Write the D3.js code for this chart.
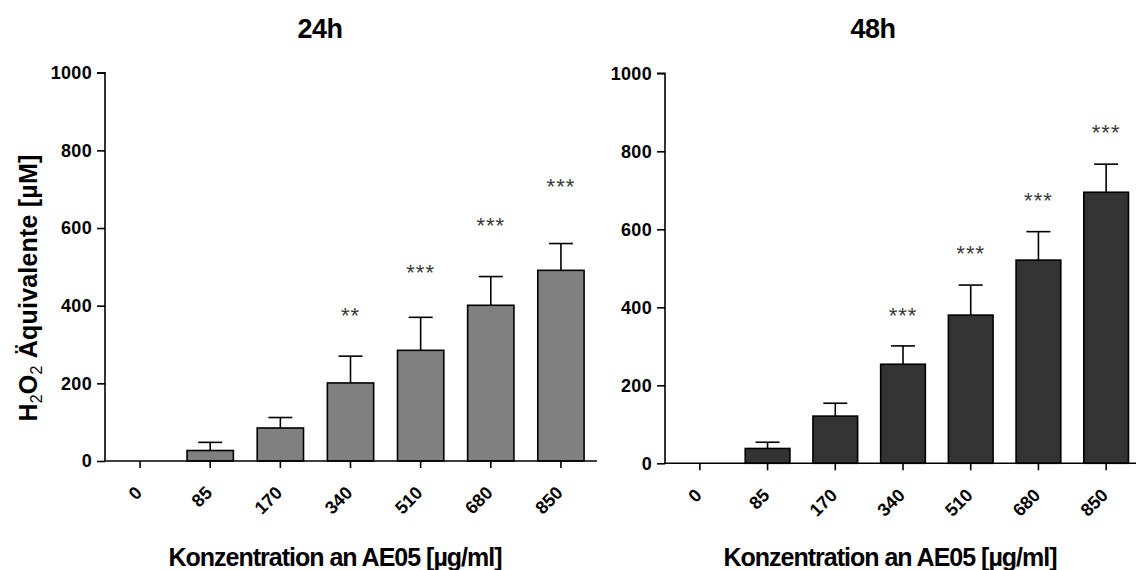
<!DOCTYPE html>
<html><head><meta charset="utf-8">
<script src="https://cdn.jsdelivr.net/npm/d3@7"></script>
<style>body{margin:0;background:#fff}svg{display:block}text{font-family:"Liberation Sans",Arial,sans-serif}</style>
</head><body><svg id="c" width="1139" height="570"></svg>
<script>
const categories = ["0","85","170","340","510","680","850"];
const yTicks = [0,200,400,600,800,1000];
const mean24 = [0,27,85,201,285,401,491];
const err24  = [0,21,27,69,85,74,69];
const sig24  = ["","","","**","***","***","***"];
const sigLevel24 = [0,0,0,386,497,618,719];
const mean48 = [0,38,121,254,380,521,695];
const err48  = [0,16,33,47,77,73,72];
const sig48  = ["","","","***","***","***","***"];
const sigLevel48 = [0,0,0,391,549,685,859];

const svg = d3.select("#c");
const font = '"Liberation Sans",Arial,sans-serif';

function panel(o){
  const g = svg.append("g");
  const x = d3.scaleBand().domain(categories).range([o.x0,o.x1]).paddingInner(0.34).paddingOuter(0.17);
  const y = d3.scaleLinear().domain([0,1000]).range([o.yb,o.yt]);
  const cx = d => x(d)+x.bandwidth()/2;
  g.selectAll("rect.bar").data(categories).join("rect")
    .attr("x",d=>x(d)).attr("width",x.bandwidth())
    .attr("y",(d,i)=>y(o.mean[i])).attr("height",(d,i)=>y(0)-y(o.mean[i]))
    .attr("fill",o.color).attr("stroke","#000").attr("stroke-width",1.6)
    .style("display",(d,i)=>o.mean[i]>0?null:"none");
  const eg = g.selectAll("g.err").data(categories).join("g").style("display",(d,i)=>o.err[i]>0?null:"none");
  eg.append("line").attr("x1",cx).attr("x2",cx)
    .attr("y1",(d,i)=>y(o.mean[i])).attr("y2",(d,i)=>y(o.mean[i]+o.err[i])).attr("stroke","#000").attr("stroke-width",1.6);
  eg.append("line").attr("x1",d=>cx(d)-12).attr("x2",d=>cx(d)+12)
    .attr("y1",(d,i)=>y(o.mean[i]+o.err[i])).attr("y2",(d,i)=>y(o.mean[i]+o.err[i])).attr("stroke","#000").attr("stroke-width",1.6);
  g.selectAll("text.sig").data(categories).join("text")
    .attr("x",cx).attr("y",(d,i)=>y(o.sigLevel[i])+12)
    .attr("text-anchor","middle").attr("font-size",22).attr("letter-spacing","1").attr("fill","#3a3a3a").style("font-family",font)
    .text((d,i)=>o.sig[i]);
  const ya = g.append("g").attr("transform",`translate(${o.ax},0)`)
    .call(d3.axisLeft(y).tickValues(yTicks).tickFormat(d3.format("d")).tickSize(8).tickPadding(5));
  ya.select(".domain").attr("stroke-width",1.6).attr("d",`M-8,${y(1000)}H0V${y(0)}`);
  ya.selectAll(".tick line").attr("stroke-width",1.6);
  ya.selectAll("text").attr("font-size",18).attr("font-weight","bold").attr("fill","#000").style("font-family",font).attr("letter-spacing","0.3");
  const xa = g.append("g").attr("transform",`translate(0,${o.yb})`)
    .call(d3.axisBottom(x).tickSize(7).tickFormat(""));
  xa.select(".domain").attr("stroke-width",1.6).attr("d",`M${o.ax},0H${o.xEnd}`);
  xa.selectAll(".tick line").attr("stroke-width",1.6);
  g.selectAll("text.xl").data(categories).join("text")
    .attr("transform",d=>`translate(${cx(d)+3},${o.yb+33}) rotate(-45)`)
    .attr("text-anchor","end").attr("font-size",18).attr("font-weight","bold").style("font-family",font)
    .text(d=>d);
  g.append("text").attr("x",o.tx).attr("y",38).attr("text-anchor","middle")
    .attr("font-size",27).attr("font-weight","bold").attr("letter-spacing","-0.5").style("font-family",font).text(o.title);
  g.append("text").attr("x",o.xtx).attr("y",566).attr("text-anchor","middle")
    .attr("font-size",25).attr("font-weight","bold").attr("letter-spacing","-1").style("font-family",font)
    .text("Konzentration an AE05 [µg/ml]");
}

panel({x0:105,x1:596,ax:105,xEnd:597,yb:461,yt:72.7,mean:mean24,err:err24,sig:sig24,sigLevel:sigLevel24,color:"#808080",title:"24h",tx:320,xtx:335});
panel({x0:666,x1:1140,ax:665,xEnd:1136,yb:463.3,yt:73.3,mean:mean48,err:err48,sig:sig48,sigLevel:sigLevel48,color:"#333333",title:"48h",tx:873,xtx:890});

const yl = svg.append("text").attr("transform","translate(37,288) rotate(-90)").attr("text-anchor","middle")
  .attr("font-size",25).attr("font-weight","bold").attr("letter-spacing","0.2").style("font-family",font);
yl.append("tspan").text("H");
yl.append("tspan").attr("font-size",16).attr("font-weight","normal").attr("dy",5).text("2");
yl.append("tspan").attr("dy",-5).text("O");
yl.append("tspan").attr("font-size",16).attr("font-weight","normal").attr("dy",5).text("2");
yl.append("tspan").attr("dy",-5).text(" Äquivalente [µM]");
</script></body></html>
